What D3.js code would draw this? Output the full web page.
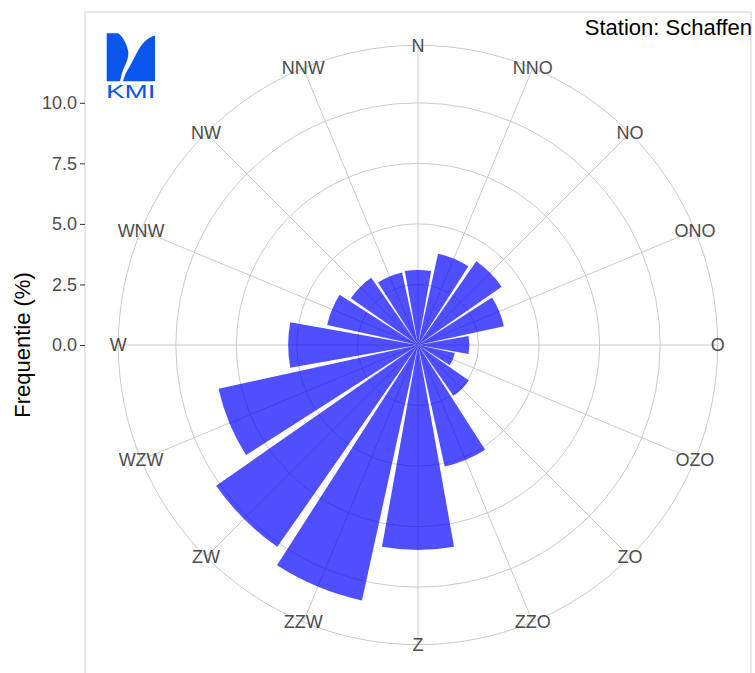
<!DOCTYPE html>
<html>
<head>
<meta charset="utf-8">
<script src="https://cdn.jsdelivr.net/npm/d3@7"></script>
<style>
	body { margin: 0; background: #fff; }
	svg { display: block; font-family: "Liberation Sans", Arial, sans-serif; }
	.grid { fill: none; stroke: #c4c4c4; stroke-width: 0.9; }
	.dir-label { fill: #4d4d4d; font-size: 18px; }
	.axis text { fill: #4d4d4d; font-size: 18px; font-family: "Liberation Sans", Arial, sans-serif; }
	.axis line { stroke: #333; }
</style>
</head>
<body>
<svg id="chart" width="755" height="673"></svg>
<script>
// wind directions (Dutch compass names) and frequency per direction in %
var directions = ["N", "NNO", "NO", "ONO", "O", "OZO", "ZO", "ZZO",
	"Z", "ZZW", "ZW", "WZW", "W", "WNW", "NW", "NNW"];
var frequencies = [3.10, 3.86, 4.21, 3.63, 2.12, 1.56, 2.56, 5.14,
	8.46, 10.80, 10.16, 8.43, 5.36, 3.84, 3.38, 3.07];
var radialTicks = [0, 2.5, 5, 7.5, 10];
var rMax = 11;
var station = "Schaffen";

var width = 755,
	height = 673,
	panel = { x: 85, y: 12, size: 666 };

var cx = panel.x + panel.size / 2,
	cy = panel.y + panel.size / 2,
	outerR = 0.45 * panel.size;

var svg = d3.select('#chart');

var theta = d3.scaleBand()
	.domain(directions)
	.range([-Math.PI / 16, 2 * Math.PI - Math.PI / 16])
	.paddingInner(0.1)
	.paddingOuter(0.05);

var rScale = d3.scaleLinear()
	.domain([0, rMax])
	.range([0, 0.4 * panel.size]);

var yScale = d3.scaleLinear()
	.domain([0, rMax])
	.range([cy, cy - 0.4 * panel.size]);

function midAngle(d) {
	return theta(d) + theta.bandwidth() / 2;
}

// panel border
svg.append('rect')
	.attr('x', panel.x)
	.attr('y', panel.y)
	.attr('width', panel.size)
	.attr('height', panel.size)
	.attr('fill', 'none')
	.attr('stroke', '#cfcfcf')
	.attr('stroke-width', 1);

var g = svg.append('g')
	.attr('transform', 'translate(' + cx + ',' + cy + ')');

// radial grid circles
g.selectAll('circle.grid')
	.data(radialTicks.filter(function(d) { return d > 0; }))
	.enter()
	.append('circle')
	.attr('class', 'grid')
	.attr('r', function(d) { return rScale(d); });

g.append('circle')
	.attr('class', 'grid')
	.attr('r', outerR);

// spokes
g.selectAll('line.spoke')
	.data(directions)
	.enter()
	.append('line')
	.attr('class', 'grid')
	.attr('x1', 0)
	.attr('y1', 0)
	.attr('x2', function(d) { return outerR * Math.sin(midAngle(d)); })
	.attr('y2', function(d) { return -outerR * Math.cos(midAngle(d)); });

// bars
var arc = d3.arc()
	.innerRadius(0)
	.outerRadius(function(d) { return rScale(d.value); })
	.startAngle(function(d) { return theta(d.dir); })
	.endAngle(function(d) { return theta(d.dir) + theta.bandwidth(); });

var bars = directions.map(function(d, i) {
	return { dir: d, value: frequencies[i] };
});

g.selectAll('path.bar')
	.data(bars)
	.enter()
	.append('path')
	.attr('class', 'bar')
	.attr('d', arc)
	.attr('fill', '#0000ff')
	.attr('fill-opacity', 0.69);

// direction labels
g.selectAll('text.dir-label')
	.data(directions)
	.enter()
	.append('text')
	.attr('class', 'dir-label')
	.attr('x', function(d) { return outerR * Math.sin(midAngle(d)); })
	.attr('y', function(d) { return -outerR * Math.cos(midAngle(d)); })
	.attr('dy', '0.35em')
	.attr('text-anchor', 'middle')
	.text(function(d) { return d; });

// radial axis on the left
var yAxis = d3.axisLeft(yScale)
	.tickValues(radialTicks)
	.tickSize(5)
	.tickPadding(3)
	.tickFormat(d3.format('.1f'));

svg.append('g')
	.attr('class', 'axis')
	.attr('transform', 'translate(' + panel.x + ',0)')
	.call(yAxis)
	.call(function(s) { s.select('.domain').remove(); });

svg.append('text')
	.attr('transform', 'translate(30,' + cy + ') rotate(-90)')
	.attr('text-anchor', 'middle')
	.attr('font-size', '22px')
	.attr('fill', '#000')
	.text('Frequentie (%)');

svg.append('text')
	.attr('x', panel.x + panel.size + 1)
	.attr('y', 35)
	.attr('text-anchor', 'end')
	.attr('font-size', '22px')
	.attr('fill', '#000')
	.text('Station: ' + station);

// KMI logo
var logo = svg.append('g').attr('fill', '#0a55eb');
logo.append('path')
	.attr('d', 'M106.7,33.3 H118.3 C123,37 127,44 128.3,52 C129,59 124,67 122,73 C121,77 120.5,79.5 120,81.3 H106.7 Z');
logo.append('path')
	.attr('d', 'M155,35.5 V81.3 H123 C124,77 126,72 130,66 C133,60 136,54 139,49 C143,42 149,37 155,35.5 Z');
logo.append('text')
	.attr('x', 106)
	.attr('y', 97.7)
	.attr('font-size', '17.5px')
	.attr('textLength', 49.5)
	.attr('lengthAdjust', 'spacingAndGlyphs')
	.text('KMI');
</script>
</body>
</html>
